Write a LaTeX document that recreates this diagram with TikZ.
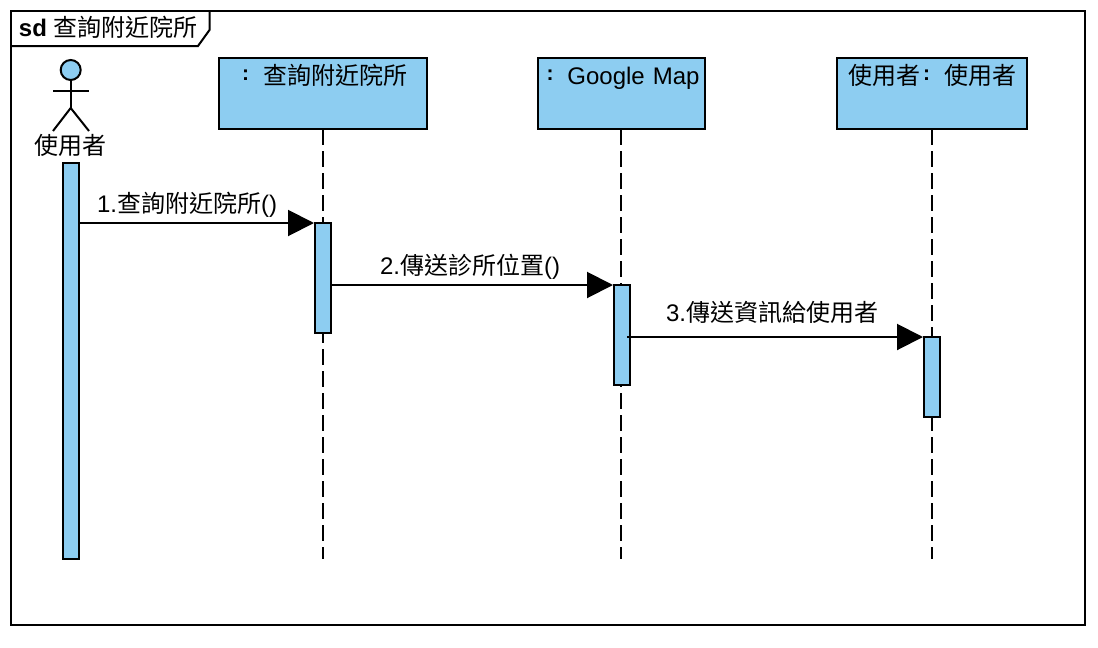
\documentclass[tikz,border=0pt]{standalone}
\usepackage{fontspec}
\setmainfont{Liberation Sans}
\newfontfamily\tcfont{Noto Sans CJK TC}
\usetikzlibrary{arrows.meta}
\definecolor{umlblue}{HTML}{8DCDF1}
\newcommand{\zh}[1]{{\tcfont #1}}
\newcommand{\cln}{\makebox[24pt][l]{\hspace{3.2pt}\raisebox{3.5pt}{\fontsize{21}{24}\selectfont\bfseries :}}}
\tikzset{
  base/.style={line width=2pt,draw=black},
  headbox/.style={base,fill=umlblue,inner sep=0pt,outer sep=0pt,align=center,text height=26pt,text depth=45pt},
  actbox/.style={base,fill=umlblue,inner sep=0pt,outer sep=0pt,minimum width=16pt,anchor=north west},
  lifeline/.style={line width=2pt,dash pattern=on 16pt off 6pt},
  msg/.style={line width=2pt,-{Triangle[length=26pt,width=26pt]},shorten >=1pt},
  txt/.style={inner sep=0pt,outer sep=0pt,anchor=base},
  every node/.append style={font=\fontsize{24}{28}\selectfont}
}
\begin{document}
\begin{tikzpicture}[x=1pt,y=-1pt]
\useasboundingbox (0,0) rectangle (1098,648);
% frame
\coordinate (fa) at (11,11);
\coordinate (fb) at (1085,625);
\draw[base] (fa) rectangle (fb);
\draw[base] (209.5,11) -- (209.5,30) -- (198,46) -- (11,46);
\node[txt,anchor=base west] (title) at (19,36) {\textbf{sd} \zh{查詢附近院所}};
% actor
\node[base,circle,fill=umlblue,minimum size=20pt,inner sep=0pt,outer sep=0pt] (head) at (70.7,70) {};
\coordinate (hip) at (70.7,108);
\coordinate (armL) at (53,90.5);
\coordinate (armR) at (89,90.5);
\coordinate (legL) at (53,131);
\coordinate (legR) at (89,131);
\draw[base] (head.south) -- (hip);
\draw[base] (armL) -- (armR);
\draw[base] (legL) -- (hip) -- (legR);
\node[txt] (actor) at (70.5,154) {\zh{使用者}};
% lifeline heads
\node[headbox,text width=208pt] (l1) at (323,93.5) {\cln\zh{查詢附近院所}\hspace{1.5pt}};
\node[headbox,text width=167pt] (l2) at (621.5,93.5) {\cln Google Map\hspace{1.5pt}};
\node[headbox,text width=190pt] (l3) at (932,93.5) {\zh{使用者}\cln\zh{使用者}\hspace{1.5pt}};
% lifeline ends
\coordinate (e1) at (323,559);
\coordinate (e2) at (620.7,559);
\coordinate (e3) at (932,559);
\draw[lifeline] (l1.south) -- (e1);
\draw[lifeline] (l2.south -| e2) -- (e2);
\draw[lifeline] (l3.south) -- (e3);
% activations
\node[actbox,minimum height=396pt] (a0) at (63,163) {};
\node[actbox,minimum height=110pt] (a1) at (315,223) {};
\node[actbox,minimum height=100pt] (a2) at (614,285) {};
\node[actbox,minimum height=80pt] (a3) at (924,337) {};
% messages
\coordinate (s1) at (78,223);
\coordinate (s2) at (330,285);
\coordinate (s3) at (627,337);
\draw[msg] (s1) -- (a1.north west);
\draw[msg] (s2) -- (a2.north west);
\draw[msg] (s3) -- (a3.north west);
\node[txt,anchor=base west] (t1) at (97,212) {1.\zh{查詢附近院所}()};
\node[txt,anchor=base west] (t2) at (380,274) {2.\zh{傳送診所位置}()};
\node[txt,anchor=base west] (t3) at (666,321) {3.\zh{傳送資訊給使用者}};
\end{tikzpicture}
\end{document}
